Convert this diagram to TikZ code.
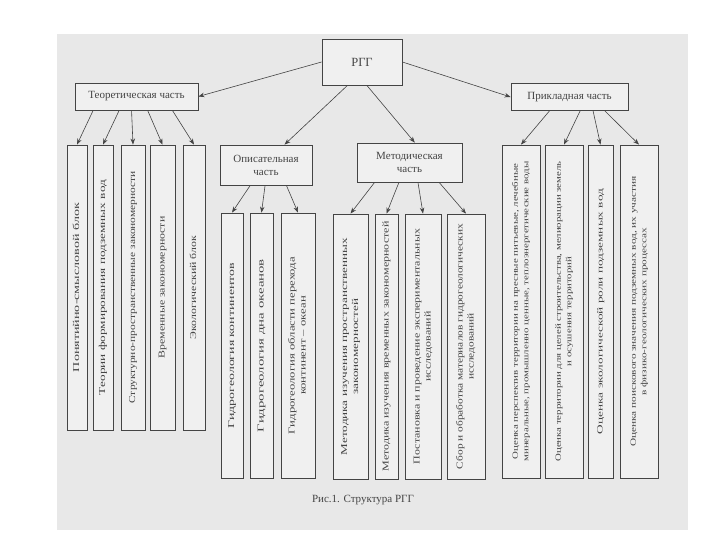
\documentclass[tikz,border=0pt]{standalone}
\usepackage{fontspec}
\setmainfont{Liberation Serif}
\usepackage{graphicx}
\usepackage{xcolor}
\definecolor{scangray}{RGB}{232,232,232}
\definecolor{boxgray}{RGB}{240,240,240}
\definecolor{inkgray}{RGB}{68,68,68}
\usetikzlibrary{arrows.meta, calc}

% stretch a (possibly two-line) text to a given length
\newcommand{\fitto}[2]{\resizebox{#1pt}{\height}{\begin{tabular}{@{}c@{}}#2\end{tabular}}}

\begin{document}
\begin{tikzpicture}[x=1pt, y=-1pt,
  box/.style={draw=inkgray, fill=boxgray, line width=0.8pt, inner sep=0pt,
              text=inkgray, align=center, font=\fontsize{11}{13}\selectfont},
  leaf/.style={box, rotate=90, font=\fontsize{9}{11}\selectfont},
  smallleaf/.style={box, rotate=90, font=\fontsize{8}{10.5}\selectfont},
  link/.style={draw=inkgray, line width=0.6pt, -{Stealth[length=6pt, width=4.5pt]}}]

\useasboundingbox (0,0) rectangle (720,540);
\fill[white] (0,0) rectangle (720,540);
% scanned page
\fill[scangray] (57,34) rectangle (688,530);

% === Root ===
\node[box, minimum width=80, minimum height=46, font=\fontsize{12.5}{14}\selectfont] (rgg) at (362,62) {РГГ};

% === Second level ===
\node[box, minimum width=123, minimum height=27] (teor) at (136.5,96.5) {Теоретическая часть};
\node[box, minimum width=117, minimum height=27] (prikl) at (569.5,97) {Прикладная часть};
\node[box, minimum width=92, minimum height=40] (opis) at (266,165) {Описательная\\часть};
\node[box, minimum width=105, minimum height=39] (metod) at (409.5,162.5) {Методическая\\часть};

% Root arrows
\draw[link] (rgg.west) -- (teor.east);
\draw[link] (rgg.east) -- (prikl.west);
\draw[link] ($(rgg.south west)!0.32!(rgg.south east)$) -- ($(opis.north west)!0.7!(opis.north east)$);
\draw[link] ($(rgg.south west)!0.56!(rgg.south east)$) -- ($(metod.north west)!0.55!(metod.north east)$);

% === Theoretical blocks ===
\node[leaf, minimum width=285, minimum height=20] (t1) at (77,287.5) {\fitto{169}{Понятийно-смысловой блок}};
\node[leaf, minimum width=285, minimum height=20] (t2) at (103,287.5) {\fitto{215}{Теории формирования подземных вод}};
\node[leaf, minimum width=285, minimum height=24] (t3) at (133,287.5) {\fitto{232}{Структурно-пространственные закономерности}};
\node[leaf, minimum width=285, minimum height=25] (t4) at (162.5,287.5) {\fitto{142}{Временные закономерности}};
\node[leaf, minimum width=285, minimum height=22] (t5) at (194,287.5) {\fitto{103}{Экологический блок}};

\draw[link] ($(teor.south west)!0.15!(teor.south east)$) -- (t1.east);
\draw[link] ($(teor.south west)!0.36!(teor.south east)$) -- (t2.east);
\draw[link] ($(teor.south west)!0.46!(teor.south east)$) -- (t3.east);
\draw[link] ($(teor.south west)!0.59!(teor.south east)$) -- (t4.east);
\draw[link] ($(teor.south west)!0.79!(teor.south east)$) -- (t5.east);

% === Descriptive blocks ===
\node[leaf, minimum width=265, minimum height=22] (d1) at (232,345.5) {\fitto{165}{Гидрогеология континентов}};
\node[leaf, minimum width=265, minimum height=23] (d2) at (261.5,345.5) {\fitto{173}{Гидрогеология дна океанов}};
\node[leaf, minimum width=265, minimum height=34] (d3) at (298,345.5) {\fitto{177}{Гидрогеология области перехода\\континент -- океан}};

\draw[link] ($(opis.south west)!0.33!(opis.south east)$) -- (d1.east);
\draw[link] ($(opis.south west)!0.49!(opis.south east)$) -- (d2.east);
\draw[link] ($(opis.south west)!0.72!(opis.south east)$) -- (d3.east);

% === Methodical blocks ===
\node[leaf, minimum width=265, minimum height=35] (m1) at (350.5,346.5) {\fitto{217}{Методика изучения пространственных\\закономерностей}};
\node[leaf, minimum width=265, minimum height=23] (m2) at (386.5,346.5) {\fitto{250}{Методика изучения временных закономерностей}};
\node[leaf, minimum width=265, minimum height=36] (m3) at (423,346.5) {\fitto{235}{Постановка и проведение экспериментальных\\исследований}};
\node[leaf, minimum width=265, minimum height=38] (m4) at (466,346.5) {\fitto{245}{Сбор и обработка материалов гидрогеологических\\исследований}};

\draw[link] ($(metod.south west)!0.17!(metod.south east)$) -- (m1.east);
\draw[link] ($(metod.south west)!0.40!(metod.south east)$) -- (m2.east);
\draw[link] ($(metod.south west)!0.58!(metod.south east)$) -- (m3.east);
\draw[link] ($(metod.south west)!0.78!(metod.south east)$) -- (m4.east);

% === Applied blocks ===
\node[smallleaf, minimum width=333, minimum height=38] (p1) at (521,311.5) {\fitto{300}{Оценка перспектив территории на пресные питьевые, лечебные\\минеральные, промышленно ценные, теплоэнергетические воды}};
\node[smallleaf, minimum width=333, minimum height=38] (p2) at (564,311.5) {\fitto{300}{Оценка территории для целей строительства, мелиорации земель\\и осушения территорий}};
\node[smallleaf, minimum width=333, minimum height=25] (p3) at (600.5,311.5) {\fitto{245}{Оценка экологической роли подземных вод}};
\node[smallleaf, minimum width=333, minimum height=38] (p4) at (639,311.5) {\fitto{270}{Оценка поискового значения подземных вод, их участия\\в физико-геологических процессах}};

\draw[link] ($(prikl.south west)!0.33!(prikl.south east)$) -- (p1.east);
\draw[link] ($(prikl.south west)!0.59!(prikl.south east)$) -- (p2.east);
\draw[link] ($(prikl.south west)!0.70!(prikl.south east)$) -- (p3.east);
\draw[link] ($(prikl.south west)!0.80!(prikl.south east)$) -- (p4.east);

% Caption
\node[text=inkgray, font=\fontsize{11}{13}\selectfont] (caption) at (363,500) {Рис.1. Структура РГГ};

\end{tikzpicture}
\end{document}
